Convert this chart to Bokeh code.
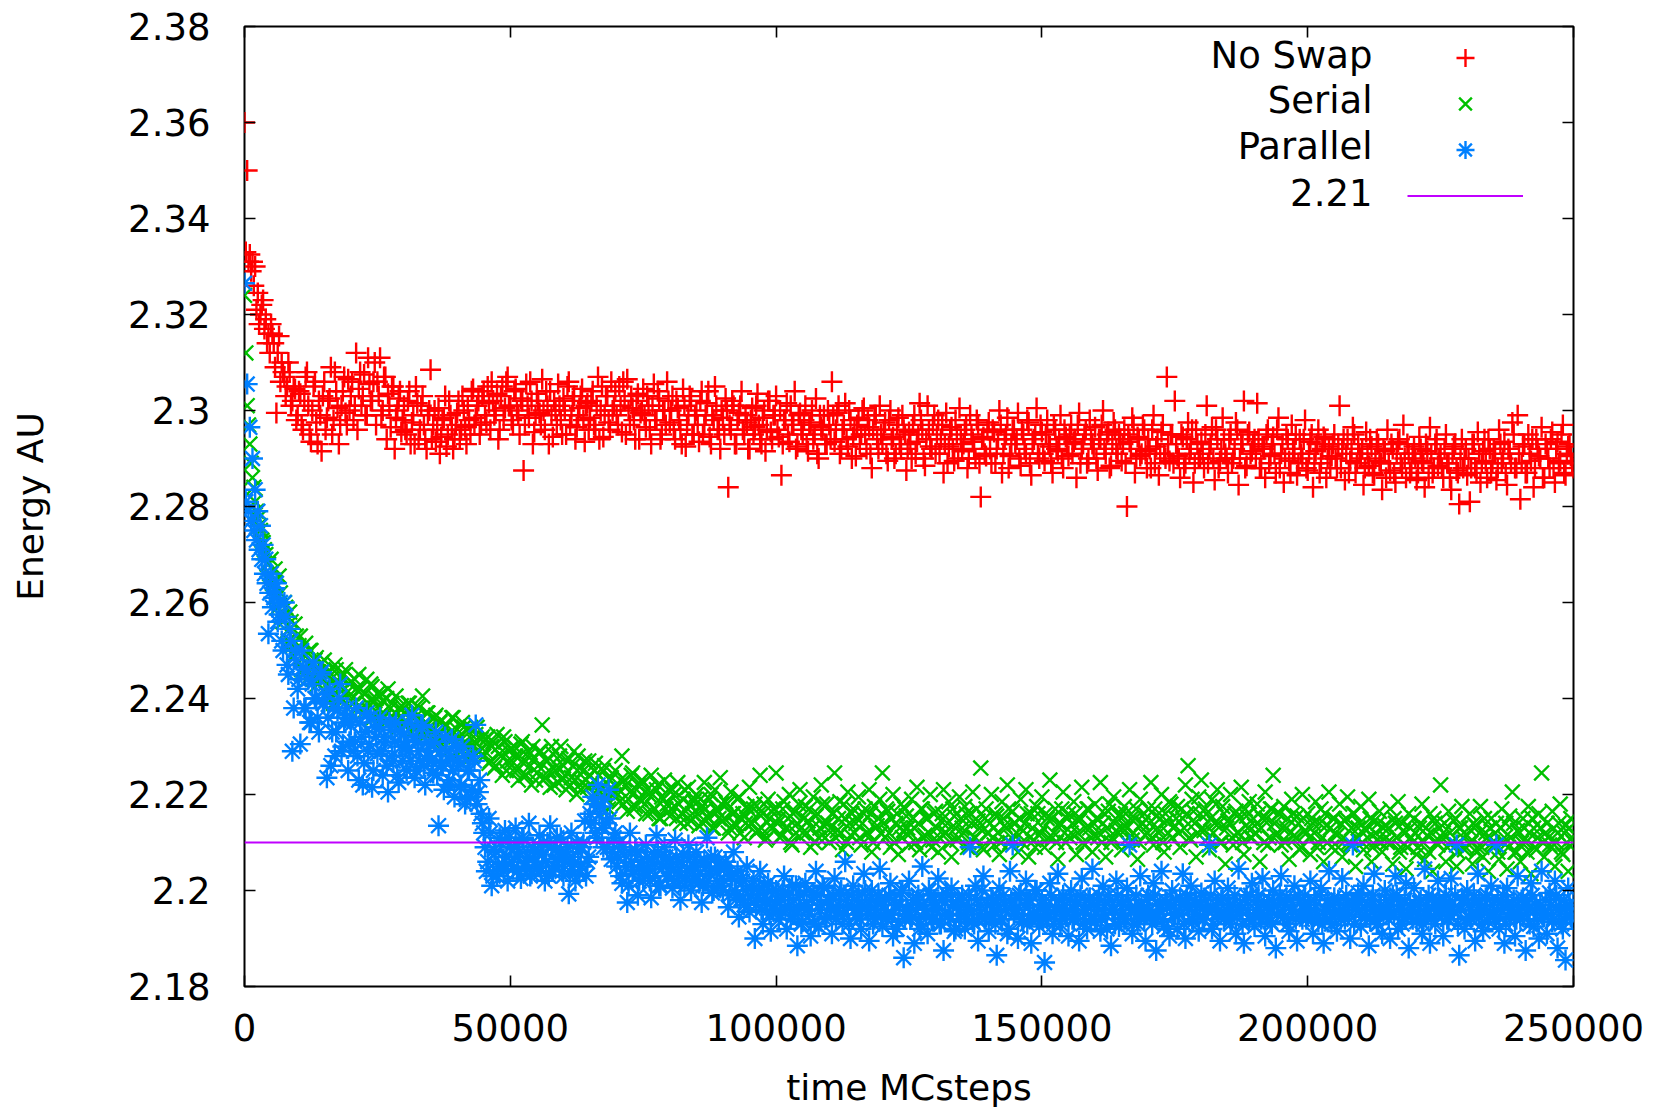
from bokeh.plotting import figure
from bokeh.models import (ColumnDataSource, Range1d, LinearAxis, FixedTicker, Legend,
                          LegendItem, CustomJSTickFormatter, Label)
from bokeh.core.properties import value
from bokeh.embed import file_html
from bokeh.resources import INLINE

# ---------------- data ----------------
# samples every 500 MC steps, plus the in-between samples (offset 250)
MC_STEPS = list(range(0, 250001, 500))
MC_STEPS_MID = list(range(250, 250000, 500))

NO_SWAP = [
    2.3600, 2.3500, 2.3325, 2.3310, 2.3300, 2.3245, 2.3200, 2.3230, 2.3190, 2.3160,
    2.3180, 2.3140, 2.2995, 2.3155, 2.3100, 2.3070, 2.3050, 2.3080, 2.3020, 2.3045,
    2.2990, 2.3035, 2.2960, 2.3070, 2.3010, 2.2935, 2.3050, 2.2975, 2.3020, 2.2915,
    2.3060, 2.2985, 2.3025, 2.2950, 2.3080, 2.3005, 2.2970, 2.3040, 2.2995, 2.3065,
    2.3030, 2.2980, 2.3120, 2.3045, 2.3010, 2.3075, 2.2990, 2.3055, 2.3020, 2.3100,
    2.3060, 2.3110, 2.3000, 2.3070, 2.3035, 2.2965, 2.3050, 2.2985, 2.3025, 2.2955,
    2.3010, 2.2950, 2.3040, 2.2975, 2.2930, 2.3015, 2.2960, 2.3030, 2.2940, 2.2990,
    2.3085, 2.2970, 2.2935, 2.3005, 2.2945, 2.2985, 2.2925, 2.3020, 2.2960, 2.2940,
    2.2995, 2.2940, 2.3030, 2.2965, 2.3010, 2.2950, 2.3045, 2.2985, 2.3020, 2.2970,
    2.3040, 2.2975, 2.3015, 2.3060, 2.2990, 2.3035, 2.2960, 2.3050, 2.3005, 2.3070,
    2.3010, 2.2970, 2.3045, 2.2990, 2.3025, 2.2875, 2.3055, 2.2985, 2.3020, 2.2955,
    2.3035, 2.2995, 2.3065, 2.2960, 2.3010, 2.3040, 2.2945, 2.3000, 2.3055, 2.2980,
    2.3025, 2.2950, 2.3060, 2.2990, 2.3030, 2.2965, 2.3005, 2.3045, 2.2935, 2.3015,
    2.2985, 2.3040, 2.2960, 2.3070, 2.3000, 2.2945, 2.3030, 2.2975, 2.3060, 2.3010,
    2.2990, 2.3050, 2.2955, 2.3020, 2.3065, 2.2970, 2.3005, 2.2940, 2.3035, 2.2995,
    2.3045, 2.2965, 2.3010, 2.2930, 2.3055, 2.2980, 2.3025, 2.2950, 2.3000, 2.3060,
    2.2975, 2.3030, 2.2940, 2.3005, 2.2960, 2.3045, 2.2925, 2.2990, 2.3020, 2.2950,
    2.3000, 2.2935, 2.3040, 2.2970, 2.3015, 2.2945, 2.2990, 2.3050, 2.2960, 2.2920,
    2.2985, 2.3025, 2.2840, 2.2960, 2.3010, 2.2930, 2.2995, 2.3040, 2.2950, 2.2975,
    2.2920, 2.3005, 2.2965, 2.3035, 2.2940, 2.2985, 2.2915, 2.3020, 2.2955, 2.2990,
    2.3030, 2.2945, 2.2865, 2.2980, 2.3015, 2.2935, 2.2970, 2.3040, 2.2925, 2.2995,
    2.2950, 2.3010, 2.2915, 2.2975, 2.2940, 2.3025, 2.2900, 2.2965, 2.2990, 2.2930,
    2.2970, 2.3060, 2.2935, 2.2995, 2.2910, 2.2960, 2.3015, 2.2925, 2.2980, 2.2945,
    2.2905, 2.2985, 2.2950, 2.3005, 2.2920, 2.2965, 2.2880, 2.2990, 2.2940, 2.3010,
    2.2930, 2.2975, 2.2895, 2.3000, 2.2945, 2.2910, 2.2985, 2.2920, 2.2960, 2.2875,
    2.2955, 2.2900, 2.2990, 2.2935, 2.3015, 2.2960, 2.2885, 2.3010, 2.2925, 2.2970,
    2.2910, 2.2980, 2.2940, 2.2870, 2.2995, 2.2925, 2.2965, 2.2895, 2.2950, 2.3005,
    2.2915, 2.2960, 2.2880, 2.2990, 2.2935, 2.2900, 2.2970, 2.2820, 2.2945, 2.2905,
    2.2975, 2.2890, 2.2955, 2.2920, 2.3000, 2.2870, 2.2940, 2.2985, 2.2905, 2.2960,
    2.2930, 2.2995, 2.2885, 2.2950, 2.2910, 2.2975, 2.2865, 2.2940, 2.3005, 2.2900,
    2.2955, 2.2895, 2.2980, 2.2925, 2.2870, 2.2960, 2.2915, 2.2990, 2.2880, 2.2945,
    2.2905, 2.2970, 2.2935, 2.2860, 2.2995, 2.2920, 2.2950, 2.2890, 2.2980, 2.2930,
    2.2965, 2.2875, 2.2940, 2.3000, 2.2910, 2.2955, 2.2885, 2.2975, 2.2920, 2.2950,
    2.2895, 2.2960, 2.2800, 2.2935, 2.2985, 2.2870, 2.2945, 2.2905, 2.2970, 2.2915,
    2.2940, 2.2880, 2.2990, 2.2925, 2.2865, 2.2955, 2.2910, 2.3070, 2.2895, 2.2950,
    2.3020, 2.2905, 2.2860, 2.2945, 2.2890, 2.2975, 2.2920, 2.2850, 2.2960, 2.2900,
    2.2935, 2.2880, 2.3010, 2.2920, 2.2965, 2.2855, 2.2940, 2.2895, 2.2985, 2.2910,
    2.2870, 2.2950, 2.2900, 2.2975, 2.2845, 2.2930, 2.3020, 2.2885, 2.2955, 2.2915,
    2.2940, 2.3015, 2.2880, 2.2925, 2.2860, 2.2960, 2.2905, 2.2945, 2.2870, 2.2985,
    2.2910, 2.2850, 2.2950, 2.2895, 2.2970, 2.2920, 2.2865, 2.2940, 2.2900, 2.2980,
    2.2875, 2.2935, 2.2840, 2.2915, 2.2960, 2.2890, 2.2945, 2.2860, 2.2925, 2.2905,
    2.2950, 2.2880, 2.3010, 2.2920, 2.2855, 2.2940, 2.2895, 2.2965, 2.2870, 2.2930,
    2.2900, 2.2845, 2.2955, 2.2885, 2.2925, 2.2865, 2.2940, 2.2895, 2.2835, 2.2915,
    2.2960, 2.2875, 2.2920, 2.2850, 2.2935, 2.2890, 2.2970, 2.2860, 2.2910, 2.2880,
    2.2925, 2.2855, 2.2945, 2.2895, 2.2840, 2.2915, 2.2965, 2.2870, 2.2930, 2.2885,
    2.2910, 2.2860, 2.2950, 2.2890, 2.2835, 2.2925, 2.2875, 2.2805, 2.2940, 2.2900,
    2.2865, 2.2810, 2.2930, 2.2880, 2.2955, 2.2850, 2.2915, 2.2895, 2.2940, 2.2870,
    2.2920, 2.2855, 2.2960, 2.2890, 2.2935, 2.2845, 2.2910, 2.2975, 2.2880, 2.2990,
    2.2815, 2.2925, 2.2870, 2.2950, 2.2895, 2.2840, 2.2940, 2.2905, 2.2965, 2.2860,
    2.2920, 2.2880, 2.2955, 2.2850, 2.2935, 2.2895, 2.2970, 2.2865, 2.2925, 2.2905,
    2.2880,
]
NO_SWAP_MID = [
    2.333, 2.331, 2.329, 2.326, 2.321, 2.318, 2.322, 2.317, 2.314, 2.312,
    2.316, 2.309, 2.312, 2.306, 2.308, 2.303, 2.310, 2.301, 2.305, 2.298,
    2.304, 2.297, 2.302, 2.308, 2.295, 2.300, 2.306, 2.293, 2.299, 2.303,
    2.296, 2.302, 2.309, 2.298, 2.304, 2.293, 2.301, 2.307, 2.297, 2.300,
    2.306, 2.301, 2.296, 2.308, 2.303, 2.299, 2.311, 2.302, 2.306, 2.297,
    2.303, 2.299, 2.307, 2.294, 2.301, 2.305, 2.292, 2.300, 2.304, 2.298,
    2.296, 2.302, 2.293, 2.299, 2.305, 2.294, 2.301, 2.297, 2.292, 2.300,
    2.294, 2.300, 2.296, 2.291, 2.298, 2.303, 2.295, 2.299, 2.292, 2.297,
    2.302, 2.296, 2.300, 2.293, 2.298, 2.304, 2.297, 2.301, 2.295, 2.303,
    2.299, 2.305, 2.296, 2.302, 2.300, 2.294, 2.303, 2.298, 2.306, 2.301,
    2.298, 2.304, 2.300, 2.295, 2.302, 2.297, 2.301, 2.306, 2.293, 2.299,
    2.302, 2.297, 2.300, 2.304, 2.293, 2.299, 2.302, 2.297, 2.301, 2.295,
    2.300, 2.305, 2.297, 2.302, 2.294, 2.299, 2.303, 2.298, 2.301, 2.296,
    2.302, 2.297, 2.301, 2.294, 2.305, 2.299, 2.303, 2.296, 2.300, 2.304,
    2.297, 2.301, 2.306, 2.295, 2.300, 2.303, 2.298, 2.302, 2.294, 2.300,
    2.299, 2.303, 2.296, 2.301, 2.298, 2.304, 2.294, 2.300, 2.297, 2.302,
    2.300, 2.296, 2.302, 2.298, 2.293, 2.301, 2.297, 2.303, 2.295, 2.299,
    2.297, 2.302, 2.295, 2.299, 2.304, 2.293, 2.298, 2.301, 2.296, 2.300,
    2.295, 2.300, 2.297, 2.302, 2.293, 2.298, 2.301, 2.296, 2.299, 2.292,
    2.298, 2.295, 2.301, 2.297, 2.293, 2.300, 2.296, 2.302, 2.294, 2.299,
    2.296, 2.300, 2.293, 2.298, 2.295, 2.301, 2.297, 2.292, 2.299, 2.296,
    2.298, 2.293, 2.297, 2.300, 2.295, 2.291, 2.299, 2.296, 2.293, 2.300,
    2.294, 2.299, 2.296, 2.301, 2.292, 2.297, 2.294, 2.300, 2.290, 2.296,
    2.297, 2.293, 2.300, 2.295, 2.298, 2.291, 2.296, 2.299, 2.292, 2.295,
    2.296, 2.291, 2.298, 2.294, 2.290, 2.297, 2.293, 2.299, 2.295, 2.292,
    2.293, 2.297, 2.291, 2.295, 2.298, 2.290, 2.294, 2.296, 2.292, 2.299,
    2.295, 2.291, 2.297, 2.293, 2.289, 2.296, 2.292, 2.298, 2.290, 2.294,
    2.293, 2.297, 2.290, 2.295, 2.292, 2.298, 2.289, 2.294, 2.291, 2.296,
    2.292, 2.296, 2.289, 2.294, 2.297, 2.291, 2.295, 2.288, 2.293, 2.296,
    2.294, 2.290, 2.296, 2.292, 2.298, 2.289, 2.293, 2.295, 2.291, 2.297,
    2.291, 2.295, 2.293, 2.289, 2.297, 2.292, 2.294, 2.290, 2.296, 2.293,
    2.295, 2.291, 2.294, 2.297, 2.289, 2.293, 2.296, 2.290, 2.294, 2.292,
    2.290, 2.294, 2.297, 2.292, 2.295, 2.288, 2.293, 2.296, 2.291, 2.294,
    2.293, 2.289, 2.295, 2.292, 2.297, 2.290, 2.294, 2.291, 2.296, 2.288,
    2.292, 2.296, 2.289, 2.294, 2.291, 2.297, 2.290, 2.293, 2.295, 2.289,
    2.293, 2.290, 2.295, 2.288, 2.294, 2.291, 2.296, 2.289, 2.293, 2.290,
    2.291, 2.295, 2.289, 2.293, 2.290, 2.296, 2.288, 2.292, 2.294, 2.290,
    2.294, 2.289, 2.292, 2.296, 2.290, 2.293, 2.288, 2.295, 2.291, 2.293,
    2.290, 2.294, 2.288, 2.292, 2.295, 2.289, 2.293, 2.291, 2.296, 2.288,
    2.293, 2.290, 2.294, 2.287, 2.292, 2.295, 2.289, 2.291, 2.294, 2.288,
    2.291, 2.295, 2.289, 2.293, 2.287, 2.292, 2.294, 2.290, 2.288, 2.293,
    2.290, 2.293, 2.288, 2.294, 2.291, 2.287, 2.292, 2.295, 2.289, 2.291,
    2.292, 2.288, 2.291, 2.294, 2.287, 2.290, 2.293, 2.289, 2.292, 2.286,
    2.289, 2.293, 2.287, 2.291, 2.294, 2.288, 2.290, 2.293, 2.287, 2.291,
    2.290, 2.287, 2.292, 2.289, 2.293, 2.286, 2.291, 2.288, 2.294, 2.290,
    2.288, 2.292, 2.289, 2.286, 2.291, 2.293, 2.287, 2.290, 2.288, 2.292,
    2.290, 2.288, 2.293, 2.287, 2.291, 2.289, 2.294, 2.286, 2.292, 2.289,
    2.291, 2.288, 2.293, 2.290, 2.287, 2.292, 2.289, 2.295, 2.288, 2.291,
    2.289, 2.293, 2.287, 2.291, 2.294, 2.288, 2.292, 2.290, 2.286, 2.293,
    2.290, 2.294, 2.288, 2.292, 2.289, 2.295, 2.287, 2.291, 2.293, 2.289,
]

SERIAL = [
    2.3240, 2.3010, 2.2930, 2.2860, 2.2810, 2.2775, 2.2750, 2.2725, 2.2700, 2.2680,
    2.2690, 2.2640, 2.2610, 2.2655, 2.2570, 2.2600, 2.2540, 2.2580, 2.2510, 2.2555,
    2.2495, 2.2530, 2.2460, 2.2515, 2.2470, 2.2500, 2.2440, 2.2485, 2.2455, 2.2475,
    2.2480, 2.2425, 2.2455, 2.2400, 2.2470, 2.2430, 2.2445, 2.2395, 2.2460, 2.2415,
    2.2435, 2.2390, 2.2420, 2.2450, 2.2380, 2.2410, 2.2440, 2.2375, 2.2425, 2.2395,
    2.2410, 2.2365, 2.2395, 2.2350, 2.2420, 2.2380, 2.2360, 2.2405, 2.2340, 2.2385,
    2.2370, 2.2345, 2.2390, 2.2330, 2.2360, 2.2385, 2.2325, 2.2405, 2.2350, 2.2370,
    2.2340, 2.2310, 2.2365, 2.2325, 2.2355, 2.2300, 2.2345, 2.2320, 2.2360, 2.2305,
    2.2335, 2.2295, 2.2350, 2.2310, 2.2280, 2.2340, 2.2300, 2.2325, 2.2290, 2.2315,
    2.2280, 2.2315, 2.2265, 2.2300, 2.2255, 2.2325, 2.2285, 2.2240, 2.2310, 2.2270,
    2.2295, 2.2250, 2.2280, 2.2230, 2.2305, 2.2265, 2.2240, 2.2290, 2.2220, 2.2275,
    2.2245, 2.2290, 2.2345, 2.2235, 2.2270, 2.2215, 2.2285, 2.2250, 2.2225, 2.2300,
    2.2260, 2.2210, 2.2275, 2.2235, 2.2290, 2.2200, 2.2255, 2.2225, 2.2270, 2.2215,
    2.2240, 2.2195, 2.2265, 2.2210, 2.2180, 2.2250, 2.2225, 2.2170, 2.2235, 2.2200,
    2.2215, 2.2185, 2.2280, 2.2230, 2.2165, 2.2205, 2.2245, 2.2175, 2.2220, 2.2190,
    2.2225, 2.2160, 2.2200, 2.2240, 2.2170, 2.2210, 2.2150, 2.2195, 2.2230, 2.2180,
    2.2155, 2.2210, 2.2175, 2.2225, 2.2140, 2.2190, 2.2165, 2.2215, 2.2145, 2.2185,
    2.2200, 2.2135, 2.2175, 2.2225, 2.2155, 2.2190, 2.2130, 2.2210, 2.2165, 2.2235,
    2.2145, 2.2185, 2.2120, 2.2205, 2.2160, 2.2135, 2.2195, 2.2150, 2.2110, 2.2175,
    2.2215, 2.2140, 2.2180, 2.2125, 2.2240, 2.2160, 2.2105, 2.2190, 2.2135, 2.2170,
    2.2245, 2.2150, 2.2115, 2.2185, 2.2130, 2.2200, 2.2095, 2.2165, 2.2140, 2.2210,
    2.2120, 2.2175, 2.2145, 2.2090, 2.2195, 2.2155, 2.2110, 2.2220, 2.2135, 2.2180,
    2.2100, 2.2160, 2.2245, 2.2125, 2.2185, 2.2085, 2.2150, 2.2205, 2.2115, 2.2170,
    2.2140, 2.2195, 2.2095, 2.2160, 2.2120, 2.2210, 2.2080, 2.2175, 2.2135, 2.2190,
    2.2245, 2.2110, 2.2165, 2.2090, 2.2200, 2.2140, 2.2075, 2.2180, 2.2125, 2.2155,
    2.2095, 2.2190, 2.2130, 2.2215, 2.2085, 2.2170, 2.2115, 2.2150, 2.2200, 2.2105,
    2.2165, 2.2080, 2.2145, 2.2210, 2.2120, 2.2185, 2.2070, 2.2155, 2.2105, 2.2195,
    2.2130, 2.2175, 2.2090, 2.2160, 2.2205, 2.2110, 2.2145, 2.2255, 2.2085, 2.2170,
    2.2120, 2.2200, 2.2095, 2.2155, 2.2075, 2.2185, 2.2135, 2.2220, 2.2100, 2.2165,
    2.2140, 2.2080, 2.2190, 2.2125, 2.2210, 2.2070, 2.2160, 2.2105, 2.2175, 2.2115,
    2.2195, 2.2090, 2.2150, 2.2230, 2.2110, 2.2170, 2.2065, 2.2140, 2.2205, 2.2100,
    2.2160, 2.2120, 2.2185, 2.2075, 2.2145, 2.2215, 2.2095, 2.2170, 2.2130, 2.2080,
    2.2180, 2.2110, 2.2225, 2.2140, 2.2070, 2.2165, 2.2100, 2.2195, 2.2125, 2.2155,
    2.2085, 2.2175, 2.2130, 2.2210, 2.2105, 2.2150, 2.2065, 2.2190, 2.2140, 2.2115,
    2.2170, 2.2225, 2.2095, 2.2155, 2.2120, 2.2200, 2.2080, 2.2145, 2.2185, 2.2110,
    2.2135, 2.2175, 2.2090, 2.2150, 2.2220, 2.2260, 2.2105, 2.2165, 2.2070, 2.2195,
    2.2230, 2.2125, 2.2160, 2.2085, 2.2190, 2.2140, 2.2210, 2.2100, 2.2175, 2.2055,
    2.2145, 2.2200, 2.2095, 2.2165, 2.2120, 2.2215, 2.2075, 2.2155, 2.2185, 2.2110,
    2.2135, 2.2180, 2.2060, 2.2150, 2.2205, 2.2095, 2.2170, 2.2240, 2.2115, 2.2160,
    2.2095, 2.2175, 2.2130, 2.2065, 2.2190, 2.2115, 2.2155, 2.2085, 2.2200, 2.2125,
    2.2160, 2.2075, 2.2140, 2.2185, 2.2100, 2.2170, 2.2060, 2.2135, 2.2205, 2.2090,
    2.2150, 2.2115, 2.2180, 2.2070, 2.2145, 2.2195, 2.2095, 2.2160, 2.2050, 2.2130,
    2.2175, 2.2085, 2.2125, 2.2190, 2.2060, 2.2145, 2.2105, 2.2165, 2.2080, 2.2135,
    2.2100, 2.2170, 2.2055, 2.2140, 2.2185, 2.2090, 2.2125, 2.2045, 2.2160, 2.2110,
    2.2150, 2.2075, 2.2130, 2.2180, 2.2065, 2.2115, 2.2160, 2.2040, 2.2140, 2.2095,
    2.2220, 2.2120, 2.2060, 2.2165, 2.2100, 2.2145, 2.2050, 2.2130, 2.2175, 2.2085,
    2.2115, 2.2160, 2.2055, 2.2135, 2.2090, 2.2175, 2.2070, 2.2120, 2.2040, 2.2150,
    2.2095, 2.2140, 2.2065, 2.2170, 2.2110, 2.2045, 2.2155, 2.2205, 2.2080, 2.2125,
    2.2060, 2.2150, 2.2100, 2.2175, 2.2035, 2.2130, 2.2085, 2.2160, 2.2245, 2.2070,
    2.2140, 2.2095, 2.2165, 2.2050, 2.2120, 2.2180, 2.2075, 2.2135, 2.2040, 2.2150,
    2.2100,
]
SERIAL_MID = [
    2.312, 2.297, 2.289, 2.284, 2.279, 2.276, 2.273, 2.271, 2.268, 2.266,
    2.264, 2.267, 2.259, 2.262, 2.256, 2.259, 2.252, 2.256, 2.249, 2.253,
    2.251, 2.246, 2.249, 2.244, 2.250, 2.245, 2.248, 2.243, 2.247, 2.244,
    2.245, 2.241, 2.244, 2.239, 2.246, 2.242, 2.240, 2.245, 2.238, 2.243,
    2.240, 2.244, 2.238, 2.242, 2.237, 2.241, 2.239, 2.243, 2.236, 2.240,
    2.238, 2.241, 2.236, 2.240, 2.235, 2.239, 2.237, 2.234, 2.238, 2.236,
    2.235, 2.239, 2.233, 2.237, 2.234, 2.238, 2.236, 2.232, 2.237, 2.234,
    2.233, 2.236, 2.231, 2.235, 2.232, 2.234, 2.229, 2.233, 2.236, 2.231,
    2.232, 2.229, 2.234, 2.230, 2.233, 2.228, 2.231, 2.234, 2.229, 2.232,
    2.229, 2.232, 2.227, 2.231, 2.226, 2.230, 2.228, 2.232, 2.225, 2.229,
    2.227, 2.230, 2.225, 2.228, 2.231, 2.224, 2.228, 2.226, 2.230, 2.223,
    2.226, 2.229, 2.223, 2.227, 2.225, 2.230, 2.222, 2.226, 2.228, 2.223,
    2.224, 2.227, 2.222, 2.226, 2.223, 2.228, 2.221, 2.225, 2.223, 2.227,
    2.222, 2.225, 2.220, 2.224, 2.221, 2.226, 2.219, 2.223, 2.221, 2.225,
    2.220, 2.223, 2.218, 2.222, 2.219, 2.224, 2.217, 2.221, 2.219, 2.223,
    2.218, 2.221, 2.216, 2.220, 2.217, 2.222, 2.215, 2.219, 2.217, 2.221,
    2.217, 2.220, 2.215, 2.218, 2.216, 2.221, 2.214, 2.218, 2.216, 2.219,
    2.216, 2.219, 2.214, 2.217, 2.215, 2.220, 2.213, 2.217, 2.215, 2.218,
    2.215, 2.218, 2.213, 2.216, 2.214, 2.219, 2.212, 2.216, 2.214, 2.217,
    2.214, 2.217, 2.212, 2.216, 2.213, 2.218, 2.211, 2.215, 2.213, 2.217,
    2.214, 2.211, 2.217, 2.213, 2.215, 2.210, 2.216, 2.212, 2.218, 2.213,
    2.215, 2.212, 2.217, 2.213, 2.210, 2.216, 2.213, 2.218, 2.211, 2.214,
    2.213, 2.216, 2.211, 2.215, 2.212, 2.218, 2.210, 2.214, 2.216, 2.212,
    2.215, 2.211, 2.214, 2.217, 2.212, 2.216, 2.210, 2.213, 2.215, 2.212,
    2.214, 2.217, 2.212, 2.215, 2.210, 2.216, 2.213, 2.211, 2.217, 2.213,
    2.212, 2.215, 2.210, 2.214, 2.217, 2.211, 2.215, 2.212, 2.209, 2.216,
    2.213, 2.211, 2.216, 2.212, 2.214, 2.210, 2.217, 2.213, 2.211, 2.215,
    2.212, 2.216, 2.210, 2.214, 2.211, 2.217, 2.213, 2.209, 2.215, 2.212,
    2.214, 2.211, 2.216, 2.212, 2.210, 2.215, 2.213, 2.217, 2.211, 2.214,
    2.212, 2.215, 2.210, 2.214, 2.216, 2.211, 2.213, 2.209, 2.216, 2.212,
    2.213, 2.216, 2.211, 2.215, 2.212, 2.210, 2.214, 2.217, 2.212, 2.215,
    2.211, 2.214, 2.216, 2.212, 2.215, 2.210, 2.213, 2.217, 2.211, 2.214,
    2.215, 2.212, 2.210, 2.216, 2.213, 2.218, 2.211, 2.214, 2.212, 2.216,
    2.213, 2.216, 2.211, 2.215, 2.212, 2.217, 2.210, 2.214, 2.216, 2.212,
    2.214, 2.211, 2.217, 2.213, 2.215, 2.210, 2.216, 2.212, 2.218, 2.213,
    2.215, 2.212, 2.217, 2.213, 2.216, 2.211, 2.219, 2.214, 2.212, 2.216,
    2.213, 2.217, 2.211, 2.215, 2.212, 2.218, 2.214, 2.210, 2.216, 2.213,
    2.214, 2.211, 2.216, 2.212, 2.215, 2.210, 2.217, 2.213, 2.211, 2.215,
    2.212, 2.216, 2.213, 2.210, 2.215, 2.211, 2.217, 2.214, 2.212, 2.216,
    2.213, 2.210, 2.215, 2.212, 2.216, 2.211, 2.214, 2.209, 2.215, 2.212,
    2.211, 2.215, 2.212, 2.209, 2.214, 2.211, 2.216, 2.210, 2.213, 2.215,
    2.212, 2.209, 2.214, 2.211, 2.215, 2.210, 2.213, 2.216, 2.211, 2.214,
    2.210, 2.213, 2.211, 2.215, 2.209, 2.212, 2.214, 2.210, 2.213, 2.211,
    2.213, 2.210, 2.215, 2.211, 2.208, 2.214, 2.212, 2.209, 2.213, 2.210,
    2.212, 2.209, 2.214, 2.210, 2.213, 2.208, 2.212, 2.215, 2.210, 2.213,
    2.211, 2.214, 2.209, 2.212, 2.210, 2.215, 2.208, 2.213, 2.211, 2.209,
    2.213, 2.210, 2.214, 2.208, 2.212, 2.209, 2.215, 2.211, 2.213, 2.210,
    2.212, 2.208, 2.213, 2.210, 2.214, 2.209, 2.211, 2.214, 2.208, 2.212,
    2.210, 2.213, 2.208, 2.212, 2.215, 2.209, 2.211, 2.213, 2.210, 2.212,
    2.211, 2.209, 2.213, 2.210, 2.214, 2.208, 2.212, 2.210, 2.213, 2.211,
]

PARALLEL = [
    2.3265, 2.3055, 2.2965, 2.2900, 2.2835, 2.2790, 2.2760, 2.2720, 2.2690, 2.2535,
    2.2660, 2.2610, 2.2640, 2.2575, 2.2520, 2.2600, 2.2470, 2.2545, 2.2290, 2.2500,
    2.2420, 2.2305, 2.2465, 2.2380, 2.2440, 2.2350, 2.2475, 2.2400, 2.2330, 2.2455,
    2.2390, 2.2235, 2.2420, 2.2330, 2.2280, 2.2375, 2.2430, 2.2300, 2.2360, 2.2250,
    2.2345, 2.2290, 2.2380, 2.2230, 2.2320, 2.2265, 2.2370, 2.2305, 2.2215, 2.2340,
    2.2285, 2.2360, 2.2240, 2.2310, 2.2205, 2.2335, 2.2270, 2.2350, 2.2225, 2.2300,
    2.2325, 2.2250, 2.2290, 2.2365, 2.2235, 2.2310, 2.2270, 2.2345, 2.2220, 2.2280,
    2.2305, 2.2245, 2.2330, 2.2135, 2.2265, 2.2210, 2.2290, 2.2230, 2.2315, 2.2195,
    2.2270, 2.2215, 2.2300, 2.2180, 2.2250, 2.2195, 2.2280, 2.2345, 2.2205, 2.2160,
    2.2120, 2.2040, 2.2150, 2.2010, 2.2085, 2.2030, 2.2110, 2.2055, 2.2125, 2.2020,
    2.2090, 2.2045, 2.2130, 2.2070, 2.2025, 2.2105, 2.2060, 2.2140, 2.2035, 2.2085,
    2.2050, 2.2115, 2.2075, 2.2020, 2.2100, 2.2135, 2.2040, 2.2085, 2.2065, 2.2110,
    2.2030, 2.2080, 2.1993, 2.2120, 2.2055, 2.2100, 2.2035, 2.2090, 2.2145, 2.2060,
    2.2160, 2.2195, 2.2120, 2.2220, 2.2175, 2.2090, 2.2140, 2.2210, 2.2065, 2.2110,
    2.2050, 2.2100, 2.2015, 2.2075, 2.1975, 2.2120, 2.2035, 2.2085, 2.1990, 2.2060,
    2.2020, 2.2095, 2.2045, 2.1985, 2.2070, 2.2115, 2.2010, 2.2055, 2.2090, 2.2030,
    2.2065, 2.2005, 2.2105, 2.2040, 2.1980, 2.2075, 2.2025, 2.2095, 2.2000, 2.2050,
    2.2080, 2.2015, 2.1975, 2.2060, 2.2110, 2.2035, 2.1995, 2.2070, 2.2020, 2.2045,
    2.2000, 2.2060, 2.1965, 2.2030, 2.2080, 2.1990, 2.1945, 2.2025, 2.1970, 2.2050,
    2.1955, 2.2010, 2.1900, 2.1985, 2.2040, 2.1930, 2.1975, 2.2015, 2.1915, 2.1960,
    2.2000, 2.1940, 2.1980, 2.2030, 2.1920, 2.1965, 2.2010, 2.1950, 2.1885, 2.1990,
    2.1935, 2.2015, 2.1960, 2.1905, 2.1990, 2.2040, 2.1925, 2.1970, 2.2005, 2.1945,
    2.1980, 2.1910, 2.2025, 2.1955, 2.1995, 2.1930, 2.2060, 2.1970, 2.1900, 2.2010,
    2.1950, 2.1990, 2.1920, 2.2035, 2.1965, 2.1895, 2.2000, 2.1940, 2.1975, 2.2045,
    2.1925, 2.1985, 2.1950, 2.2015, 2.1905, 2.1970, 2.1935, 2.1995, 2.1860, 2.1960,
    2.2020, 2.1945, 2.1890, 2.1980, 2.1920, 2.2050, 2.1960, 2.1910, 2.1990, 2.1940,
    2.1975, 2.2025, 2.1930, 2.1875, 2.1995, 2.1950, 2.2005, 2.1915, 2.1965, 2.1940,
    2.1990, 2.1920, 2.1960, 2.2090, 2.1935, 2.2010, 2.1895, 2.1970, 2.2030, 2.1945,
    2.1915, 2.1985, 2.1955, 2.1865, 2.2005, 2.1940, 2.1975, 2.1910, 2.2040, 2.2095,
    2.1960, 2.1900, 2.1995, 2.1935, 2.2020, 2.1970, 2.1890, 2.1950, 2.2000, 2.1925,
    2.1980, 2.1850, 2.1945, 2.2015, 2.1910, 2.1965, 2.2035, 2.1930, 2.1990, 2.1955,
    2.1905, 2.2000, 2.1940, 2.1975, 2.1895, 2.2025, 2.1960, 2.1920, 2.1985, 2.2045,
    2.1935, 2.1970, 2.1915, 2.2010, 2.1950, 2.1990, 2.1885, 2.1960, 2.2020, 2.1925,
    2.1975, 2.1940, 2.2005, 2.2095, 2.1910, 2.1965, 2.1930, 2.2030, 2.1955, 2.1895,
    2.1990, 2.1945, 2.2015, 2.1875, 2.1960, 2.2040, 2.1925, 2.1975, 2.1905, 2.2000,
    2.1950, 2.1920, 2.1985, 2.2035, 2.1900, 2.1965, 2.2010, 2.1935, 2.1975, 2.1915,
    2.1995, 2.1940, 2.1960, 2.2095, 2.1920, 2.2020, 2.1955, 2.1895, 2.1985, 2.1945,
    2.2005, 2.1930, 2.1970, 2.1910, 2.2045, 2.1960, 2.1890, 2.1990, 2.1940, 2.2015,
    2.1925, 2.1980, 2.1950, 2.2025, 2.1905, 2.1965, 2.1935, 2.2000, 2.1880, 2.1970,
    2.2030, 2.1945, 2.1985, 2.1915, 2.1960, 2.2010, 2.1895, 2.1975, 2.1940, 2.1990,
    2.1950, 2.2020, 2.1910, 2.1970, 2.1935, 2.2005, 2.1890, 2.1960, 2.2040, 2.1930,
    2.1985, 2.1915, 2.1955, 2.2025, 2.1940, 2.1975, 2.1900, 2.2095, 2.1960, 2.1995,
    2.1925, 2.2010, 2.1945, 2.1885, 2.1980, 2.2035, 2.1930, 2.1965, 2.1910, 2.2000,
    2.1955, 2.1900, 2.1990, 2.2030, 2.1920, 2.1970, 2.1945, 2.2015, 2.1880, 2.1960,
    2.2005, 2.1935, 2.1975, 2.1910, 2.2045, 2.1950, 2.1890, 2.1985, 2.1930, 2.2020,
    2.1965, 2.1905, 2.1990, 2.1940, 2.2025, 2.1955, 2.2095, 2.1865, 2.1980, 2.1920,
    2.2000, 2.1945, 2.1970, 2.1895, 2.2035, 2.1960, 2.1915, 2.1985, 2.1935, 2.2010,
    2.1950, 2.2095, 2.1920, 2.1975, 2.1890, 2.2005, 2.1945, 2.1965, 2.1905, 2.2030,
    2.1940, 2.1985, 2.1875, 2.1960, 2.2015, 2.1925, 2.1970, 2.1900, 2.2040, 2.1950,
    2.1910, 2.1995, 2.1935, 2.2020, 2.1880, 2.1965, 2.1920, 2.1855, 2.2005, 2.1945,
    2.1975,
]
PARALLEL_MID = [
    2.281, 2.279, 2.277, 2.275, 2.273, 2.271, 2.269, 2.266, 2.264, 2.262,
    2.259, 2.263, 2.256, 2.260, 2.250, 2.257, 2.245, 2.252, 2.238, 2.248,
    2.244, 2.250, 2.238, 2.246, 2.235, 2.243, 2.240, 2.236, 2.245, 2.239,
    2.241, 2.236, 2.226, 2.238, 2.233, 2.240, 2.229, 2.235, 2.238, 2.231,
    2.236, 2.231, 2.228, 2.235, 2.222, 2.233, 2.229, 2.236, 2.225, 2.232,
    2.234, 2.229, 2.232, 2.226, 2.235, 2.228, 2.231, 2.224, 2.233, 2.227,
    2.230, 2.235, 2.227, 2.232, 2.225, 2.229, 2.234, 2.226, 2.231, 2.228,
    2.227, 2.231, 2.224, 2.229, 2.226, 2.232, 2.222, 2.228, 2.225, 2.230,
    2.226, 2.222, 2.228, 2.219, 2.225, 2.221, 2.227, 2.218, 2.223, 2.214,
    2.209, 2.206, 2.212, 2.203, 2.208, 2.205, 2.210, 2.204, 2.207, 2.211,
    2.206, 2.209, 2.204, 2.208, 2.211, 2.205, 2.207, 2.203, 2.209, 2.206,
    2.208, 2.204, 2.210, 2.206, 2.203, 2.209, 2.205, 2.211, 2.207, 2.204,
    2.206, 2.209, 2.204, 2.207, 2.202, 2.208, 2.205, 2.210, 2.203, 2.207,
    2.214, 2.218, 2.211, 2.216, 2.213, 2.219, 2.209, 2.215, 2.208, 2.212,
    2.207, 2.203, 2.209, 2.205, 2.201, 2.206, 2.204, 2.208, 2.202, 2.205,
    2.204, 2.207, 2.202, 2.206, 2.203, 2.208, 2.201, 2.205, 2.207, 2.203,
    2.205, 2.202, 2.207, 2.203, 2.206, 2.201, 2.204, 2.207, 2.202, 2.205,
    2.203, 2.206, 2.201, 2.205, 2.202, 2.207, 2.200, 2.204, 2.206, 2.201,
    2.202, 2.205, 2.199, 2.203, 2.200, 2.204, 2.198, 2.202, 2.200, 2.197,
    2.199, 2.202, 2.197, 2.200, 2.196, 2.201, 2.198, 2.195, 2.200, 2.197,
    2.198, 2.195, 2.200, 2.196, 2.199, 2.194, 2.198, 2.201, 2.196, 2.193,
    2.197, 2.200, 2.195, 2.198, 2.193, 2.199, 2.196, 2.201, 2.194, 2.198,
    2.196, 2.199, 2.194, 2.197, 2.200, 2.195, 2.198, 2.193, 2.199, 2.196,
    2.198, 2.194, 2.197, 2.200, 2.195, 2.198, 2.193, 2.196, 2.199, 2.195,
    2.197, 2.194, 2.199, 2.195, 2.198, 2.192, 2.197, 2.200, 2.194, 2.196,
    2.194, 2.198, 2.196, 2.199, 2.193, 2.197, 2.195, 2.200, 2.194, 2.198,
    2.196, 2.193, 2.198, 2.195, 2.199, 2.194, 2.197, 2.192, 2.198, 2.195,
    2.197, 2.194, 2.199, 2.196, 2.193, 2.198, 2.195, 2.200, 2.194, 2.197,
    2.195, 2.198, 2.193, 2.197, 2.194, 2.199, 2.196, 2.192, 2.198, 2.195,
    2.196, 2.199, 2.194, 2.197, 2.193, 2.198, 2.195, 2.200, 2.194, 2.197,
    2.194, 2.197, 2.195, 2.199, 2.193, 2.196, 2.198, 2.194, 2.197, 2.195,
    2.198, 2.194, 2.197, 2.195, 2.199, 2.193, 2.196, 2.198, 2.194, 2.197,
    2.195, 2.199, 2.194, 2.197, 2.192, 2.198, 2.196, 2.193, 2.199, 2.195,
    2.197, 2.194, 2.198, 2.196, 2.193, 2.199, 2.195, 2.197, 2.194, 2.198,
    2.196, 2.193, 2.199, 2.195, 2.197, 2.194, 2.198, 2.192, 2.197, 2.195,
    2.198, 2.195, 2.197, 2.193, 2.199, 2.196, 2.194, 2.198, 2.195, 2.197,
    2.194, 2.198, 2.196, 2.199, 2.193, 2.197, 2.195, 2.198, 2.194, 2.196,
    2.197, 2.194, 2.199, 2.195, 2.197, 2.193, 2.198, 2.196, 2.199, 2.194,
    2.196, 2.199, 2.194, 2.197, 2.195, 2.198, 2.193, 2.197, 2.195, 2.199,
    2.195, 2.197, 2.193, 2.198, 2.196, 2.194, 2.199, 2.195, 2.197, 2.194,
    2.197, 2.194, 2.198, 2.195, 2.199, 2.193, 2.196, 2.198, 2.194, 2.197,
    2.195, 2.198, 2.194, 2.196, 2.199, 2.195, 2.197, 2.193, 2.198, 2.196,
    2.198, 2.195, 2.197, 2.194, 2.199, 2.196, 2.193, 2.197, 2.195, 2.198,
    2.194, 2.197, 2.195, 2.199, 2.196, 2.193, 2.198, 2.195, 2.197, 2.194,
    2.197, 2.195, 2.198, 2.193, 2.196, 2.199, 2.194, 2.197, 2.195, 2.198,
    2.195, 2.198, 2.194, 2.197, 2.196, 2.199, 2.193, 2.196, 2.198, 2.194,
    2.197, 2.194, 2.199, 2.195, 2.198, 2.193, 2.196, 2.199, 2.195, 2.197,
    2.194, 2.198, 2.196, 2.199, 2.193, 2.197, 2.195, 2.198, 2.194, 2.196,
    2.198, 2.195, 2.197, 2.193, 2.199, 2.196, 2.194, 2.197, 2.195, 2.198,
    2.195, 2.197, 2.194, 2.199, 2.196, 2.193, 2.198, 2.195, 2.197, 2.194,
]

REFERENCE_LEVEL = 2.21
SERIES_NAMES = ["No Swap", "Serial", "Parallel", "2.21"]

X_RANGE = (0, 250000)
Y_RANGE = (2.18, 2.38)
X_TICKS = [0, 50000, 100000, 150000, 200000, 250000]
X_TICK_LABELS = ["0", "50000", "100000", "150000", "200000", "250000"]
Y_TICKS = [2.18, 2.20, 2.22, 2.24, 2.26, 2.28, 2.30, 2.32, 2.34, 2.36, 2.38]
Y_TICK_LABELS = ["2.18", "2.2", "2.22", "2.24", "2.26", "2.28", "2.3", "2.32", "2.34", "2.36", "2.38"]

X_TITLE = "time MCsteps"
Y_TITLE = "Energy AU"

for name, a, b in (("NO_SWAP", NO_SWAP, NO_SWAP_MID), ("SERIAL", SERIAL, SERIAL_MID),
                   ("PARALLEL", PARALLEL, PARALLEL_MID)):
    assert len(a) == len(MC_STEPS), (name, len(a))
    assert len(b) == len(MC_STEPS_MID), (name + "_MID", len(b))

# ---------------- figure ----------------
FONT = "DejaVu Sans"
RED, GREEN, BLUE, VIOLET = "#ff0000", "#00c000", "#0080ff", "#c000ff"

src = ColumnDataSource(dict(
    step=MC_STEPS + MC_STEPS_MID,
    no_swap=NO_SWAP + NO_SWAP_MID,
    serial=SERIAL + SERIAL_MID,
    parallel=PARALLEL + PARALLEL_MID,
))

p = figure(width=1650, height=1113,
           x_range=Range1d(*X_RANGE), y_range=Range1d(*Y_RANGE),
           output_backend="svg", toolbar_location=None,
           min_border_left=244, min_border_right=77,
           min_border_top=26, min_border_bottom=127)
p.xgrid.visible = False
p.ygrid.visible = False
p.outline_line_color = "#000000"
p.outline_line_width = 2
p.background_fill_color = "white"
p.border_fill_color = "white"

MSIZE, MLW = 21, 2.4
r_red = p.scatter("step", "no_swap", source=src, marker="cross", size=MSIZE,
                  line_color=RED, line_width=MLW)
r_green = p.scatter("step", "serial", source=src, marker="x", size=MSIZE,
                    line_color=GREEN, line_width=MLW)
r_blue = p.scatter("step", "parallel", source=src, marker="asterisk", size=MSIZE,
                   line_color=BLUE, line_width=MLW)
r_line = p.line(x=list(X_RANGE), y=[REFERENCE_LEVEL, REFERENCE_LEVEL],
                line_color=VIOLET, line_width=2)


def style_axis(ax):
    ax.axis_line_color = None
    ax.major_tick_in = 11
    ax.major_tick_out = 0
    ax.major_tick_line_color = "#000000"
    ax.major_tick_line_width = 1.6
    ax.minor_tick_line_color = None
    ax.major_label_text_font = FONT
    ax.major_label_text_font_size = "37px"
    ax.major_label_text_color = "#000000"
    ax.axis_label_text_font = FONT
    ax.axis_label_text_font_size = "36px"
    ax.axis_label_text_font_style = "normal"
    ax.axis_label_text_color = "#000000"


xa = p.xaxis[0]
style_axis(xa)
xa.ticker = FixedTicker(ticks=X_TICKS)
xa.major_label_overrides = dict(zip(X_TICKS, X_TICK_LABELS))
xa.major_label_standoff = 27
xa.axis_label = X_TITLE
xa.axis_label_standoff = 23

ya = p.yaxis[0]
style_axis(ya)
ya.ticker = FixedTicker(ticks=Y_TICKS)
ya.major_label_overrides = dict(zip(Y_TICKS, Y_TICK_LABELS))
ya.major_label_standoff = 34
ya.axis_label = Y_TITLE
ya.axis_label_standoff = 74

blank = "return ''"
ra = LinearAxis(ticker=FixedTicker(ticks=Y_TICKS), formatter=CustomJSTickFormatter(code=blank))
style_axis(ra)
ra.major_label_text_font_size = "6px"
ra.major_label_standoff = 0
p.add_layout(ra, "right")

ta = LinearAxis(ticker=FixedTicker(ticks=X_TICKS), formatter=CustomJSTickFormatter(code=blank))
style_axis(ta)
ta.major_label_text_font_size = "6px"
ta.major_label_standoff = 0
p.add_layout(ta, "above")

# legend: glyph samples from a Legend (no label text) + right-aligned texts to their left
legend = Legend(
    items=[LegendItem(label=value(""), renderers=[r]) for r in (r_red, r_green, r_blue, r_line)],
    location=(1163, 768), orientation="vertical",
    glyph_width=116, glyph_height=45, label_height=45, label_width=0, spacing=1,
    label_standoff=0, label_text_font_size="1px",
    border_line_color=None, background_fill_alpha=0, padding=0, margin=0,
)
p.add_layout(legend)

LEGEND_TEXT_X = 1128
LEGEND_TEXT_Y = [931, 886, 840, 794]
for name, ty in zip(SERIES_NAMES, LEGEND_TEXT_Y):
    p.add_layout(Label(x=LEGEND_TEXT_X, y=ty, x_units="screen", y_units="screen", text=name,
                       text_align="right", text_baseline="middle", text_font=FONT,
                       text_font_size="37px", text_color="#000000"))

open("out.html", "w").write(file_html(p, INLINE))
